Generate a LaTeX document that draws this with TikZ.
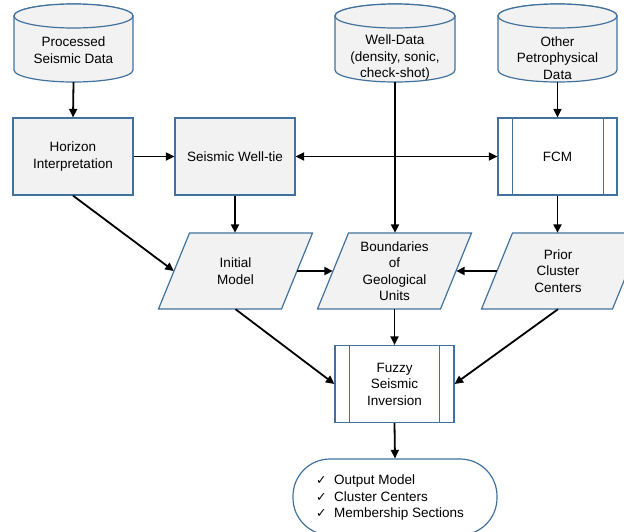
\documentclass[tikz,border=0pt]{standalone}
\usepackage{fontspec}
\setmainfont{Liberation Sans}
\newfontfamily\ckfont{DejaVu Sans}
\usetikzlibrary{arrows.meta}
\definecolor{bord}{RGB}{65,113,156}
\definecolor{boxfill}{RGB}{242,242,242}
\newcommand{\cylpath}[4]{%
  \path[shapeline] (#1,#3+12) -- (#1,#4-12)
    arc[start angle=180,end angle=0,x radius={(#2-#1)/2},y radius=12]
    -- (#2,#3+12)
    arc[start angle=0,end angle=-180,x radius={(#2-#1)/2},y radius=12] -- cycle;
  \path[shapeline] ({(#1+#2)/2},#3+12) ellipse[x radius={(#2-#1)/2},y radius=12];}
\newcommand{\para}[3]{%
  \path[shapeline] (#1-#3-15.5,#2+38) -- (#1-#3+15.5,#2-38) -- (#1+#3+15.5,#2-38) -- (#1+#3-15.5,#2+38) -- cycle;}
\newcommand{\ck}{\makebox[18pt][l]{\ckfont\fontsize{12.5}{16.5}\selectfont ✓}}
\begin{document}
\begin{tikzpicture}[x=1pt,y=-1pt,
  every node/.style={font=\fontsize{13.5}{16.5}\selectfont, align=center, inner sep=0pt},
  boxnode/.style={draw=bord, fill=boxfill, line width=1.2pt, minimum width=120pt, minimum height=77pt},
  procnode/.style={draw=bord, fill=white, line width=1.2pt, minimum width=119pt, minimum height=77pt},
  cylbox/.style={minimum width=120pt, minimum height=78pt},
  shapeline/.style={draw=bord, fill=boxfill, line width=1.2pt},
  innerline/.style={draw=bord, line width=1.2pt},
  arr/.style={->, line width=1.8pt},
  >={Triangle[length=8.5pt,width=8pt]}]
\useasboundingbox (0,0) rectangle (624,531);

% cylinders
\cylpath{14}{133}{4}{82}
\node[cylbox] (psd) at (73.5,43) {};
\node (psdt) at (73.5,50) {Processed\\Seismic Data};
\cylpath{335}{455}{4}{82}
\node[cylbox] (wd) at (395,43) {};
\node (wdt) at (395,58) {Well-Data\\(density, sonic,\\check-shot)};
\cylpath{498}{617}{4}{82}
\node[cylbox] (opd) at (557.5,43) {};
\node (opdt) at (557.5,58) {Other\\Petrophysical\\Data};

% boxes
\node[boxnode] (hz) at (73,156.5) {Horizon\\Interpretation};
\node[boxnode] (wt) at (235,156.5) {Seismic Well-tie};
\node[procnode] (fcm) at (557.5,156.5) {FCM};
\draw[innerline] ([xshift=15pt]fcm.north west) -- ([xshift=15pt]fcm.south west);
\draw[innerline] ([xshift=-14pt]fcm.north east) -- ([xshift=-14pt]fcm.south east);

% parallelograms
\para{235.5}{271}{61.5}
\node[minimum width=123pt, minimum height=76pt] (im) at (235.5,271) {Initial\\Model};
\para{394.5}{271}{61.5}
\node[minimum width=123pt, minimum height=76pt] (bd) at (394.5,271) {Boundaries\\of\\Geological\\Units};
\para{562.5}{271}{65.5}
\node[minimum width=131pt, minimum height=76pt] (pc) at (562.5,271) {};
\node (pct) at (558,271) {Prior\\Cluster\\Centers};

% fuzzy inversion
\node[procnode] (fsi) at (394.5,384) {Fuzzy\\Seismic\\Inversion};
\draw[innerline] ([xshift=15pt]fsi.north west) -- ([xshift=15pt]fsi.south west);
\draw[innerline] ([xshift=-15pt]fsi.north east) -- ([xshift=-15pt]fsi.south east);

% output terminal
\node[draw=bord, fill=white, line width=1.2pt, rounded corners=37pt, minimum width=204pt, minimum height=76pt] (out) at (395,497) {};
\node[align=left] (outt) at (390,497.5) {\ck Output Model\\\ck Cluster Centers\\\ck Membership Sections};

% connectors
\draw[arr] (psd.south) -- (hz.north);
\draw[arr] (hz.east) -- (wt.west);
\draw[arr,<->] (wt.east) -- (fcm.west);
\draw[arr] (wd.south) -- (wd.south |- bd.north);
\draw[arr] (opd.south) -- (fcm.north);
\draw[arr] (wt.south) -- (wt.south |- im.north);
\draw[arr] (fcm.south) -- (fcm.south |- pc.north);
\draw[arr] (hz.south) -- (im.west);
\draw[arr] (im.east) -- (bd.west);
\draw[arr] (pc.west) -- (bd.east);
\draw[arr] (im.south) -- (fsi.west);
\draw[arr] (bd.south) -- (fsi.north);
\draw[arr] ([xshift=-4.5pt]pc.south) -- (fsi.east);
\draw[arr] (fsi.south) -- (out.north);
\end{tikzpicture}
\end{document}
